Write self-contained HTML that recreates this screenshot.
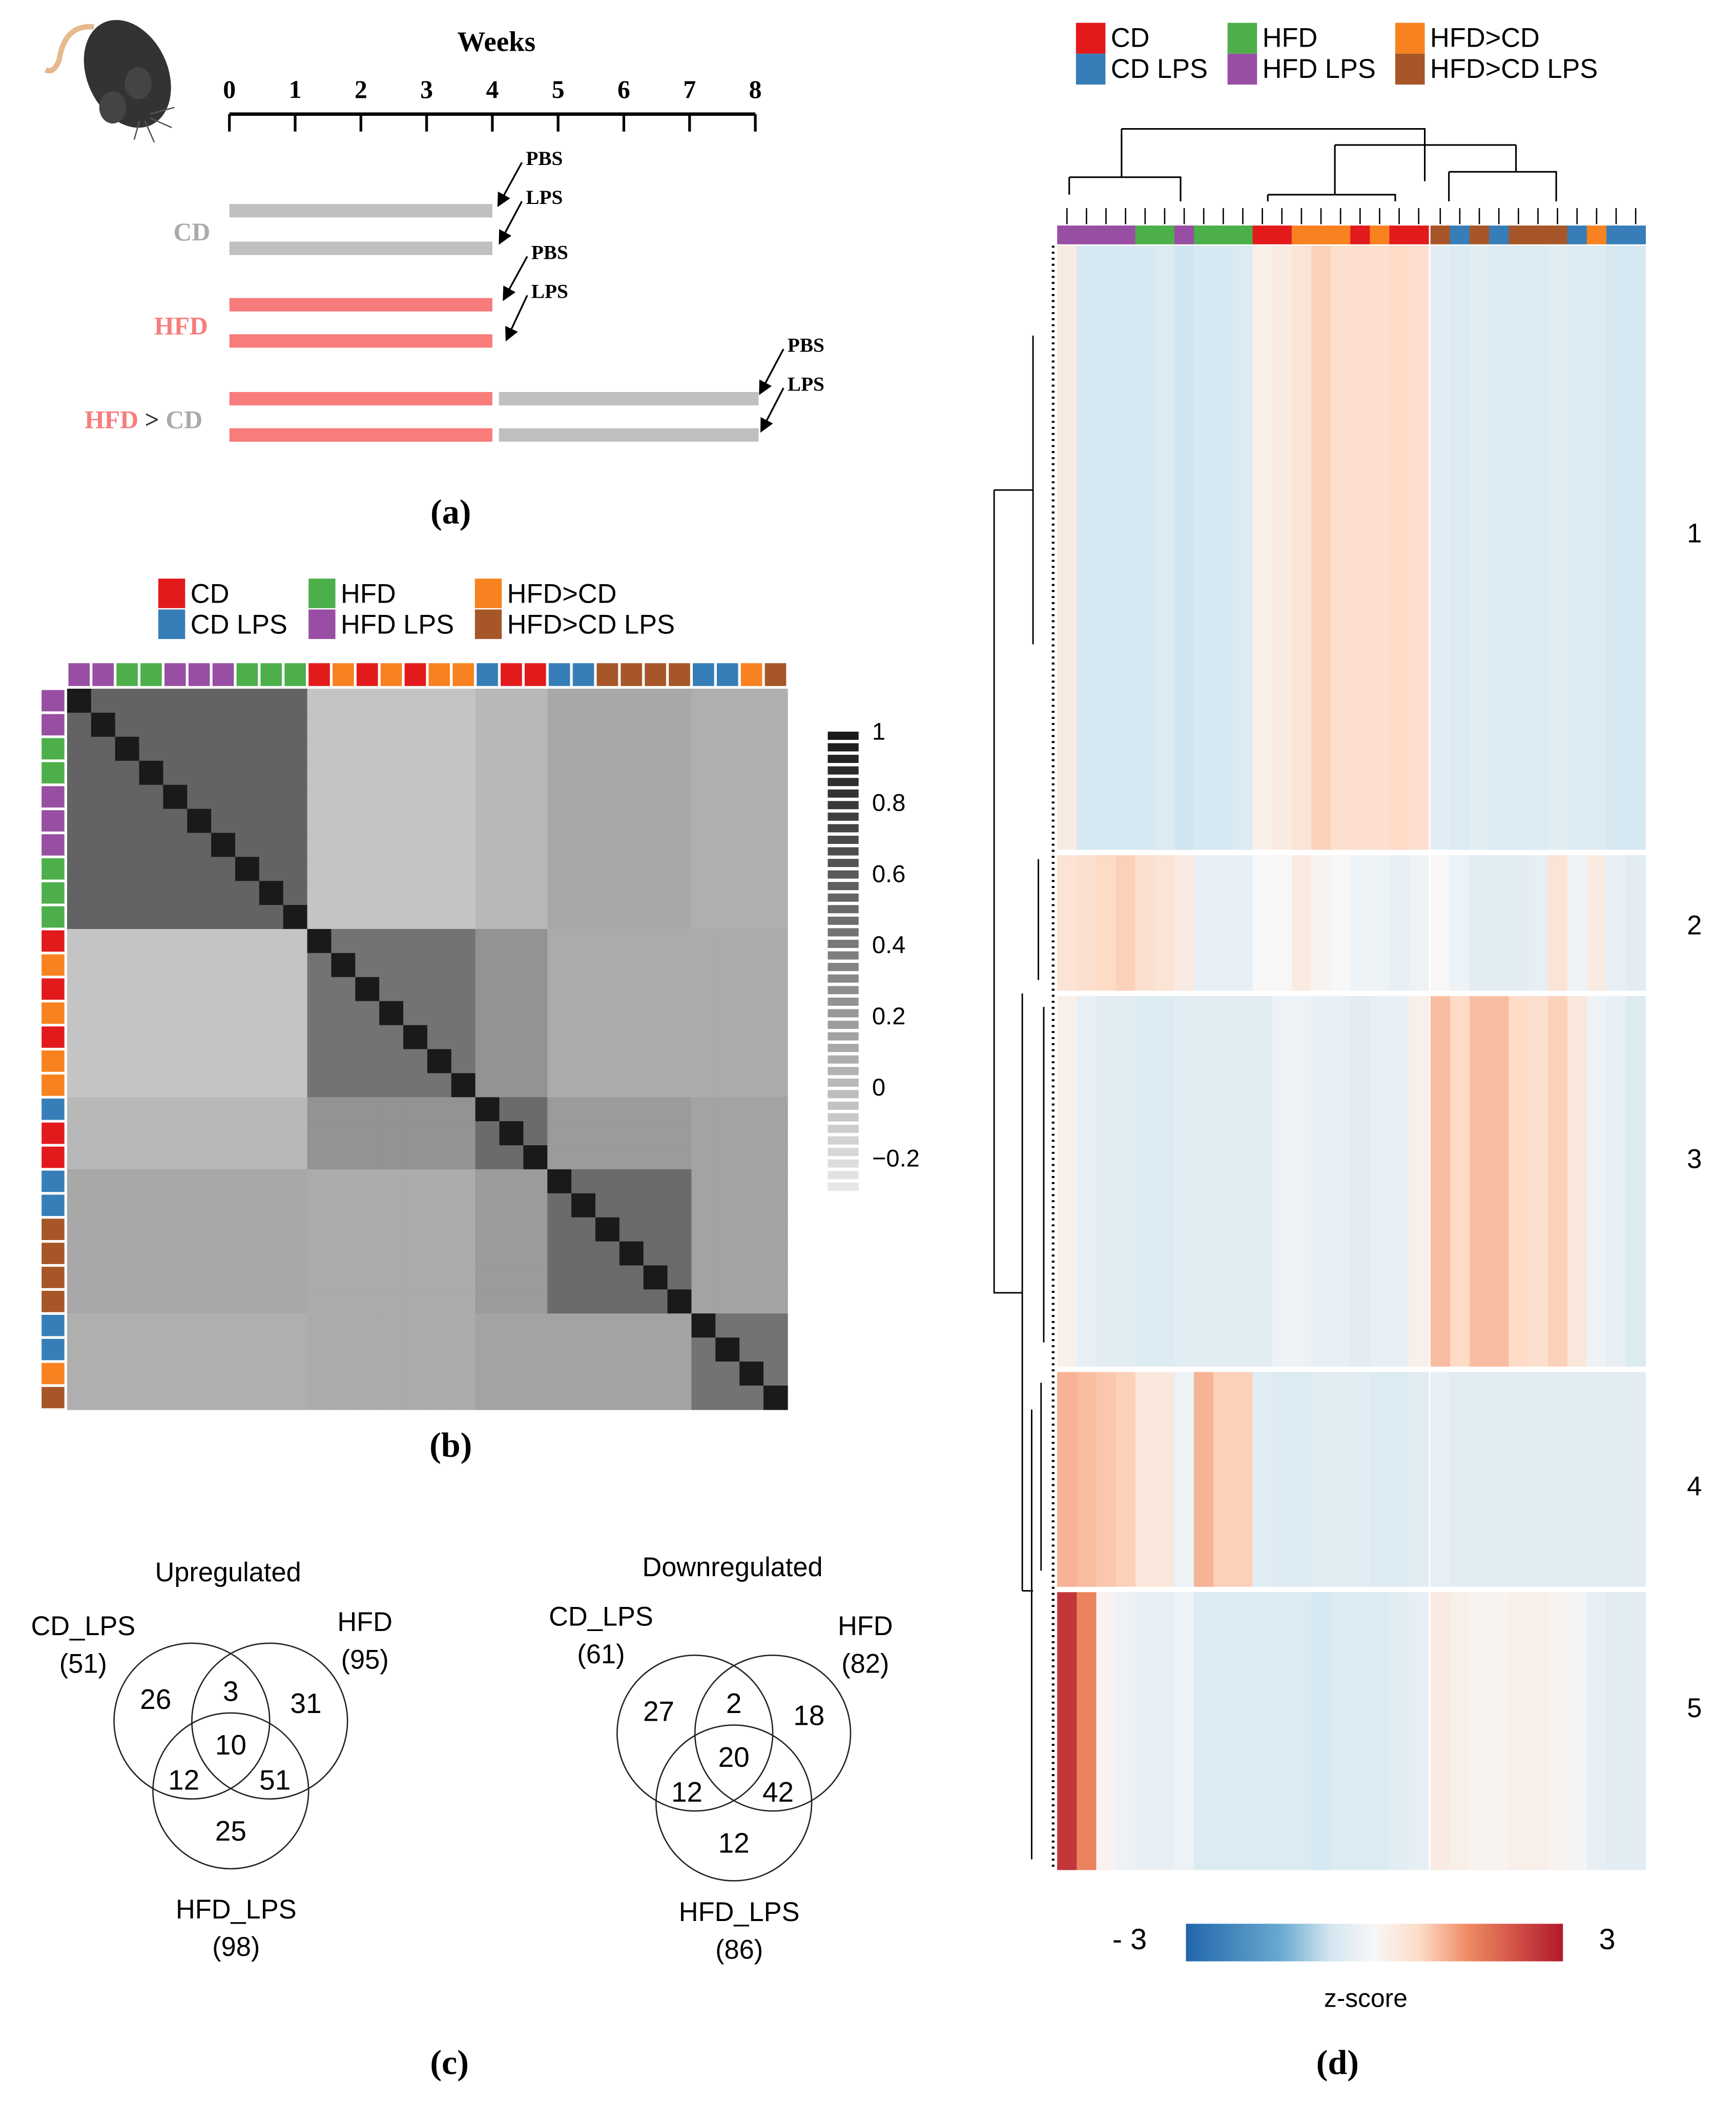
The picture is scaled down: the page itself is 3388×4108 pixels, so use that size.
<!DOCTYPE html>
<html><head><meta charset="utf-8">
<style>
html,body{margin:0;padding:0;background:#fff;}
svg{display:block;}
.sans{font-family:"Liberation Sans",sans-serif;}
.serif{font-family:"Liberation Serif",serif;font-weight:bold;}
</style></head>
<body>
<svg id="fig" xmlns="http://www.w3.org/2000/svg" width="3388" height="4108" viewBox="0 0 1294 1568" preserveAspectRatio="none">
<rect width="1294" height="1568" fill="#fff"/>
<g id="panelA">
  <g>
    <path d="M70 20 Q48 18 44 45 Q40 55 34 52" stroke="#e7b98f" stroke-width="4" fill="none"/>
    <ellipse cx="95" cy="55" rx="30" ry="42" transform="rotate(-25 95 55)" fill="#333"/>
    <ellipse cx="103" cy="62" rx="10" ry="12" fill="#444"/>
    <ellipse cx="84" cy="80" rx="10" ry="12" fill="#444"/>
    <path d="M112 85 L130 80 M112 88 L128 95 M108 90 L115 106 M104 90 L100 104" stroke="#555" stroke-width="1"/>
  </g>
  <text class="serif" x="370" y="38" font-size="21" text-anchor="middle">Weeks</text>
  <g id="weekAxis"></g>
  <g id="bars"></g>
  <text class="serif" x="143" y="179" font-size="19" fill="#aaa" text-anchor="middle">CD</text>
  <text class="serif" x="135" y="249" font-size="19" fill="#f87c7c" text-anchor="middle">HFD</text>
  <text class="serif" x="107" y="319" font-size="19" text-anchor="middle"><tspan fill="#f87c7c">HFD</tspan><tspan fill="#333"> &gt; </tspan><tspan fill="#aaa">CD</tspan></text>
  <g id="arrows"></g>
  <text class="serif" x="336" y="390" font-size="26" text-anchor="middle">(a)</text>
</g>
<g id="panelB">
  <g id="legendB"></g>
  <g id="corr"></g>
  <g id="cbarB"></g>
  <text class="serif" x="336" y="1085" font-size="26" text-anchor="middle">(b)</text>
</g>
<g id="panelC" class="sans" font-size="20">
  <g id="venns"></g>
  <text class="serif" x="335" y="1545" font-size="26" text-anchor="middle">(c)</text>
</g>
<g id="panelD">
  <g id="legendD"></g>
  <g id="dendTop"></g>
  <g id="dendLeft"></g>
  <g id="heatD"></g>
  <g id="cbarD"></g>
  <text class="serif" x="997" y="1545" font-size="26" text-anchor="middle">(d)</text>
</g>
</svg>
<script>
const weekTicks = [0,1,2,3,4,5,6,7,8];
const groupColors = {R:"#e31a1c",B:"#377eb8",G:"#4daf4a",P:"#984ea3",O:"#f7821f",Br:"#a65628"};
const legendLabels = [["R","CD"],["B","CD LPS"],["G","HFD"],["P","HFD LPS"],["O","HFD>CD"],["Br","HFD>CD LPS"]];
const corrGroups = ["P","P","G","G","P","P","P","G","G","G","R","O","R","O","R","O","O","B","R","R","B","B","Br","Br","Br","Br","B","B","O","Br"];
const corrSub = [0,0,0,0,0,0,0,0,0,0,1,1,1,1,1,1,1,2,2,2,3,3,3,3,3,3,4,4,4,4];
const corrLevels = [
 [0.55,-0.05,0.02,0.12,0.08],
 [-0.05,0.45,0.25,0.1,0.1],
 [0.02,0.25,0.5,0.2,0.15],
 [0.12,0.1,0.2,0.5,0.15],
 [0.08,0.1,0.15,0.15,0.45]];
const corrTicks = [1,0.8,0.6,0.4,0.2,0,-0.2];
const heatGroups = ["P","P","P","P","G","G","P","G","G","G","R","R","O","O","O","R","O","R","R","Br","B","Br","B","Br","Br","Br","B","O","B","B"];
const clusterNames = ["1","2","3","4","5"];
const cluster1 = [0.3,-0.6,-0.6,-0.6,-0.6,-0.5,-0.7,-0.6,-0.6,-0.5,0.2,0.3,0.5,0.8,0.6,0.6,0.6,0.7,0.6,-0.4,-0.5,-0.4,-0.5,-0.5,-0.5,-0.4,-0.5,-0.5,-0.6,-0.6];
const cluster2 = [0.5,0.6,0.7,0.8,0.6,0.5,0.3,-0.3,-0.3,-0.3,0,0,0.3,0.1,0,-0.2,-0.2,-0.3,-0.2,0,-0.2,-0.4,-0.4,-0.4,-0.3,0.5,-0.2,0.3,-0.3,-0.4];
const cluster3 = [0.2,-0.3,-0.4,-0.4,-0.5,-0.5,-0.4,-0.4,-0.4,-0.4,-0.4,-0.2,-0.2,-0.3,-0.3,-0.4,-0.3,-0.3,0.2,1.0,0.7,1.0,1.0,0.7,0.6,0.8,0.4,-0.2,-0.3,-0.5];
const cluster4 = [1.1,1.0,0.9,0.8,0.4,0.4,-0.2,1.1,0.8,0.8,-0.4,-0.5,-0.5,-0.4,-0.4,-0.4,-0.5,-0.5,-0.4,-0.3,-0.4,-0.4,-0.4,-0.4,-0.4,-0.4,-0.4,-0.4,-0.4,-0.4];
const cluster5 = [2.6,1.6,0.1,-0.2,-0.3,-0.3,-0.2,-0.5,-0.5,-0.5,-0.5,-0.5,-0.5,-0.6,-0.5,-0.5,-0.5,-0.4,-0.3,0.3,0.2,0.1,0.1,0.2,0.2,0.1,-0.1,-0.3,-0.4,-0.4];
const vennUp = {title:"Upregulated",sets:["CD_LPS","HFD","HFD_LPS"],totals:[51,95,98],regions:[26,31,25,3,12,51,10]};
const vennDown = {title:"Downregulated",sets:["CD_LPS","HFD","HFD_LPS"],totals:[61,82,86],regions:[27,18,12,2,12,42,20]};

const NS="http://www.w3.org/2000/svg";
function mk(tag,attrs,parent){const e=document.createElementNS(NS,tag);for(const k in attrs)e.setAttribute(k,attrs[k]);parent.appendChild(e);return e;}
function txt(parent,x,y,s,size,extra){const t=mk("text",Object.assign({x:x,y:y,"font-size":size},extra||{}),parent);t.textContent=s;return t;}

const wx = w => 171 + w*49;
const ax=document.getElementById("weekAxis");
mk("line",{x1:wx(0),y1:85,x2:wx(8),y2:85,stroke:"#000","stroke-width":2.5},ax);
weekTicks.forEach(w=>{
  mk("line",{x1:wx(w),y1:85,x2:wx(w),y2:98,stroke:"#000","stroke-width":2},ax);
  const t=txt(ax,wx(w),73,String(w),19,{"text-anchor":"middle",class:"serif"});
  
  
});
const bars=document.getElementById("bars");
const barDefs=[[0,4,157,"#c0c0c0"],[0,4,185,"#c0c0c0"],[0,4,227,"#f87c7c"],[0,4,254,"#f87c7c"],[0,4,297,"#f87c7c"],[0,4,324,"#f87c7c"],[4.1,8.05,297,"#c0c0c0"],[4.1,8.05,324,"#c0c0c0"]];
barDefs.forEach(b=>{const r=mk("rect",{x:wx(b[0]),y:b[2]-5,width:wx(b[1])-wx(b[0]),height:10,fill:b[3]},bars);
  });
const arr=document.getElementById("arrows");
mk("defs",{},arr).innerHTML='<marker id="ah" markerWidth="8" markerHeight="8" refX="6" refY="4" orient="auto"><path d="M0,0 L8,4 L0,8 z" fill="#000"/></marker>';
[[392,123,"PBS",372,152],[392,152,"LPS",373,180],[396,193,"PBS",376,222],[396,222,"LPS",378,252],[587,262,"PBS",567,292],[587,291,"LPS",568,320]].forEach(a=>{
  const l=mk("line",{x1:a[0]-3,y1:a[1]-2,x2:a[3],y2:a[4],stroke:"#000","stroke-width":1.3,"marker-end":"url(#ah)"},arr);
  
  const t=txt(arr,a[0],a[1],a[2],15,{class:"serif"});
  
});

(function(){const g=document.getElementById("legendB");
 legendLabels.forEach((l,i)=>{const col=Math.floor(i/2),row=i%2;const xs=[118,230,354];const x=xs[col],y=431+row*23;
 const r=mk("rect",{x:x,y:y,width:20,height:22,fill:groupColors[l[0]]},g);
 const t=txt(g,x+24,y+18,l[1],20,{class:"sans"});});
 const g2=document.getElementById("legendD");
 legendLabels.forEach((l,i)=>{const col=Math.floor(i/2),row=i%2;const xs=[802,915,1040];const x=xs[col],y=17+row*23;
 const r=mk("rect",{x:x,y:y,width:22,height:23,fill:groupColors[l[0]]},g2);
 const t=txt(g2,x+26,y+18,l[1],20,{class:"sans"});});
})();

const corr=document.getElementById("corr");
const N=corrGroups.length, cx0=50, cy0=513, cs=(587-50)/N;
const gray = v => {const g=Math.round(26+(1-v)/1.3*210);return `rgb(${g},${g},${g})`;};
corrGroups.forEach((gname,i)=>{
  const t=mk("rect",{x:cx0+i*cs+1,y:494,width:cs-2,height:17,fill:groupColors[gname]},corr);
  
  const s=mk("rect",{x:31,y:cy0+i*cs+1,width:17,height:cs-2,fill:groupColors[gname]},corr);
  
});
for(let i=0;i<N;i++)for(let j=0;j<N;j++){
  const v = i===j?1:corrLevels[corrSub[i]][corrSub[j]];
  const c=mk("rect",{x:cx0+j*cs,y:cy0+i*cs,width:cs+0.3,height:cs+0.3,fill:gray(v)},corr);
  
}
const cb=document.getElementById("cbarB");
const cbY = v => 545 + (1-v)/0.2*53;
for(let k=0;k<40;k++){const v=1-k*(1.3/40);
  const r=mk("rect",{x:617,y:cbY(v),width:23,height:53*(1.3/40)/0.2-2.5,fill:gray(v)},cb);
  }
corrTicks.forEach(v=>{const t=txt(cb,650,cbY(v)+6,v<0?"\u22120.2":String(v),18,{class:"sans"});
  });

function venn(d,cx,cy,pos){
  const g=mk("g",{},document.getElementById("venns"));
  
  const r=58;
  const centers=[[cx-29,cy],[cx+29,cy],[cx,cy+52]];
  centers.forEach(c=>{const e=mk("circle",{cx:c[0],cy:c[1],r:r,fill:"none",stroke:"#222","stroke-width":1},g);
    });
  const rp=[[-56,-16],[56,-13],[0,82],[0,-22],[-35,44],[33,44],[0,18]];
  d.regions.forEach((n,i)=>{const t=txt(g,cx+rp[i][0],cy+rp[i][1]+7,String(n),21,{"text-anchor":"middle"});
    });
  const tt=txt(g,pos.title[0],pos.title[1],d.title,20,{"text-anchor":"middle"});
  
  d.sets.forEach((s,i)=>{const p=pos.sets[i];
    const a=txt(g,p[0],p[1],s,20,{"text-anchor":"middle"});
    const b=txt(g,p[0],p[1]+28,"("+d.totals[i]+")",20,{"text-anchor":"middle"});});
}
venn(vennUp,172,1282,{title:[170,1178],sets:[[62,1218],[272,1215],[176,1429]]});
venn(vennDown,547,1291,{title:[546,1174],sets:[[448,1211],[645,1218],[551,1431]]});

const hd=document.getElementById("heatD");
const HX0=788, HX1=1225, nc=heatGroups.length, hw=(HX1-HX0)/nc;
const colX = j => HX0 + j*hw + (j>=19?1.5:0);
const clusterSpans=[[183,633],[637,738],[742,1018],[1022,1182],[1186,1393]];
const clusterLabelY=[397,689,863,1107,1272];
const clusters=[cluster1,cluster2,cluster3,cluster4,cluster5];
function zcol(z){
  const stops=[[-3,[33,102,172]],[-1.5,[103,169,207]],[-0.7,[209,229,240]],[0,[247,247,247]],[0.7,[253,219,199]],[1.5,[239,138,98]],[3,[178,24,43]]];
  z=Math.max(-3,Math.min(3,z));
  for(let k=0;k<stops.length-1;k++){const a=stops[k],b=stops[k+1];if(z<=b[0]){const t=(z-a[0])/(b[0]-a[0]);
    return `rgb(${a[1].map((c,i)=>Math.round(c+(b[1][i]-c)*t)).join(",")})`;}}
}
heatGroups.forEach((gname,j)=>{const r=mk("rect",{x:colX(j),y:168,width:hw+0.3,height:14,fill:groupColors[gname]},hd);
  });
clusters.forEach((vals,ci)=>{
  const [y0,y1]=clusterSpans[ci];
  vals.forEach((z,j)=>{const r=mk("rect",{x:colX(j),y:y0,width:hw+0.3,height:y1-y0,fill:zcol(z)},hd);
    });
  const t=txt(hd,1263,clusterLabelY[ci]+7,clusterNames[ci],20,{class:"sans","text-anchor":"middle"});
  
});
const dt=document.getElementById("dendTop");
const dtPath="M836 96 H1062 V108 M836 96 V132 M797 132 H880 V140 M797 132 V145 M880 140 V150 M1062 108 V135 M995 108 H1130 M995 108 V145 M1130 108 V128 M945 145 H1040 V150 M945 145 V150 M1080 128 H1160 V150 M1080 128 V150";
const p1=mk("path",{d:dtPath,stroke:"#000","stroke-width":1.2,fill:"none"},dt);

for(let j=0;j<nc;j++){const l=mk("line",{x1:colX(j)+hw/2,y1:167,x2:colX(j)+hw/2,y2:155,stroke:"#000","stroke-width":1},dt);
  }
const dl=document.getElementById("dendLeft");
const p2=mk("path",{d:"M741 365 H770 M741 365 V963 H762 M770 250 V480 M762 740 V1185 M769 1050 V1385 M774 640 V730 M778 750 V1000 M776 1030 V1170 M762 1185 H770",stroke:"#000","stroke-width":1.1,fill:"none"},dl);

const p3=mk("line",{x1:785,y1:183,x2:785,y2:1393,stroke:"#000","stroke-width":2,"stroke-dasharray":"1.5 3"},dl);

const cd=document.getElementById("cbarD");
mk("defs",{},cd).innerHTML='<linearGradient id="zg"><stop offset="0" stop-color="#2166ac"/><stop offset="0.25" stop-color="#67a9cf"/><stop offset="0.38" stop-color="#d1e5f0"/><stop offset="0.5" stop-color="#f7f7f7"/><stop offset="0.62" stop-color="#fddbc7"/><stop offset="0.75" stop-color="#ef8a62"/><stop offset="1" stop-color="#b2182b"/></linearGradient>';
const zr=mk("rect",{x:884,y:1433,width:281,height:28,fill:"url(#zg)"},cd);

[["- 3",842],["3",1198]].forEach(a=>{const t=txt(cd,a[1],1452,a[0],22,{class:"sans","text-anchor":"middle"});
  });
const zt=txt(cd,1018,1495,"z-score",19,{class:"sans","text-anchor":"middle"});

</script>
</body></html>
